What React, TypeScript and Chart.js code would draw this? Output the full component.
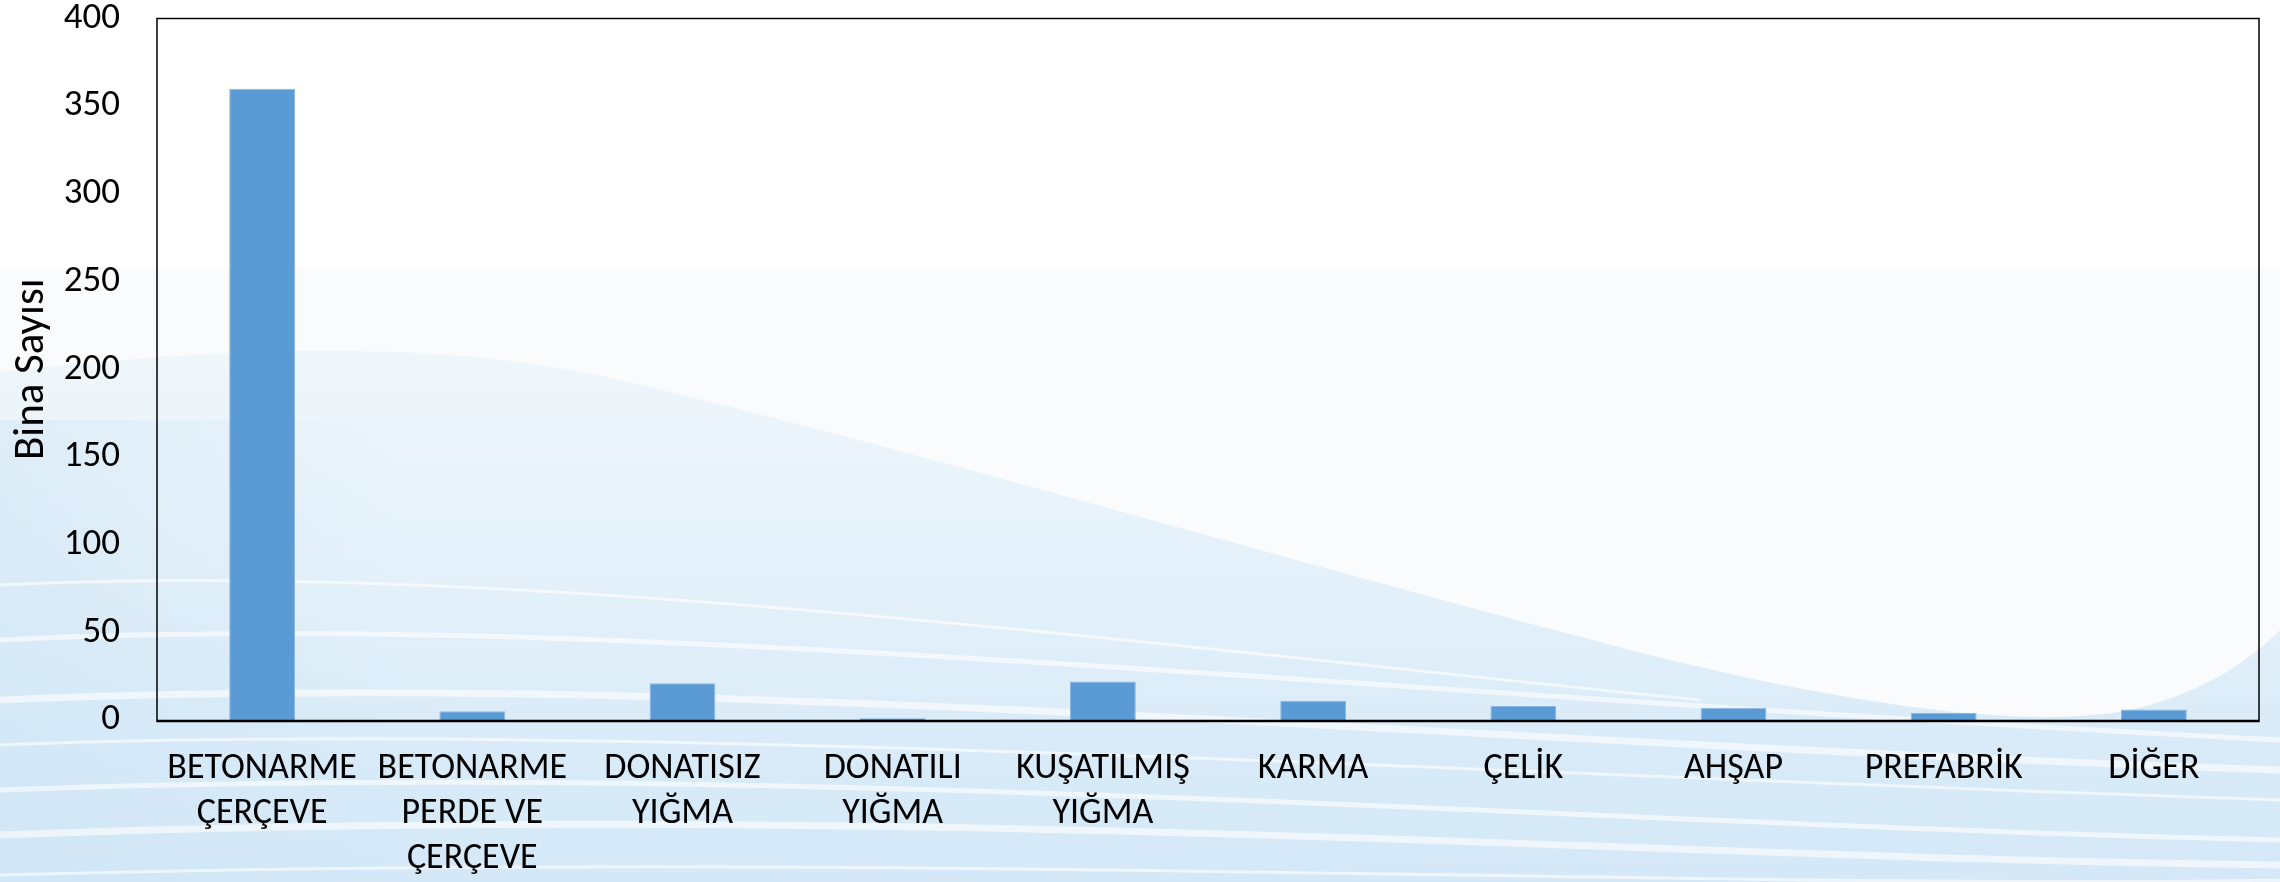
import React, { useEffect, useRef } from "react";
import { Chart, registerables } from "chart.js";

Chart.register(...registerables);

const categories: (string | string[])[] = [
  ["BETONARME", "ÇERÇEVE"],
  ["BETONARME", "PERDE VE", "ÇERÇEVE"],
  ["DONATISIZ", "YIĞMA"],
  ["DONATILI", "YIĞMA"],
  ["KUŞATILMIŞ", "YIĞMA"],
  "KARMA",
  "ÇELİK",
  "AHŞAP",
  "PREFABRİK",
  "DİĞER",
];
const binaSayisi: number[] = [360, 5, 21, 1, 22, 11, 8, 7, 4, 6];
const yTitle = "Bina Sayısı";
const yMin = 0;
const yMax = 400;
const yStep = 50;

const FONT = "Carlito, Calibri, Lato, 'Open Sans', sans-serif";

const backgroundPlugin = {
  id: "waveBackground",
  beforeDraw(chart: any) {
    const { ctx, width, height } = chart;
    ctx.save();
    ctx.fillStyle = "#ffffff";
    ctx.fillRect(0, 0, width, height);
    ctx.fillStyle = "#f9fbfc";
    ctx.fillRect(0, 268, width, height - 268);

    // pale blue wave region
    const g = ctx.createLinearGradient(0, 340, 0, height);
    g.addColorStop(0, "rgba(222,238,249,0.35)");
    g.addColorStop(0.45, "rgba(220,237,249,0.75)");
    g.addColorStop(0.75, "rgba(215,234,248,0.95)");
    g.addColorStop(1, "rgba(212,232,247,1)");
    ctx.fillStyle = g;
    ctx.beginPath();
    ctx.moveTo(0, 372);
    ctx.bezierCurveTo(200, 350, 420, 335, 620, 380);
    ctx.bezierCurveTo(900, 445, 1300, 565, 1650, 655);
    ctx.bezierCurveTo(1850, 705, 2050, 735, 2150, 705);
    ctx.bezierCurveTo(2220, 685, 2260, 650, 2280, 630);
    ctx.lineTo(2280, height);
    ctx.lineTo(0, height);
    ctx.closePath();
    ctx.fill();

    // left side extra tint
    const g2 = ctx.createLinearGradient(0, 0, 400, 0);
    g2.addColorStop(0, "rgba(205,228,245,0.45)");
    g2.addColorStop(1, "rgba(205,228,245,0)");
    ctx.fillStyle = g2;
    ctx.fillRect(0, 420, 400, height - 420);

    // soft white streaks (mostly below plot)
    ctx.strokeStyle = "rgba(255,255,255,0.6)";
    const streaks = [
      [0, 585, 500, 560, 1100, 640, 1700, 700],
      [0, 640, 600, 610, 1300, 690, 2280, 740],
      [0, 700, 700, 670, 1400, 740, 2280, 770],
      [0, 745, 600, 720, 1500, 775, 2280, 800],
      [0, 790, 800, 760, 1600, 825, 2280, 840],
      [0, 835, 900, 800, 1700, 860, 2280, 865],
      [0, 875, 900, 850, 1700, 890, 2280, 880],
    ];
    streaks.forEach((s, i) => {
      ctx.lineWidth = 3 + (i % 3) * 2;
      ctx.beginPath();
      ctx.moveTo(s[0], s[1]);
      ctx.bezierCurveTo(s[2], s[3], s[4], s[5], s[6], s[7]);
      ctx.stroke();
    });
    ctx.restore();
  },
};

const frameBorderPlugin = {
  id: "frameBorder",
  afterDatasetsDraw(chart: any) {
    const { ctx, chartArea } = chart;
    const { left, right, top, bottom } = chartArea;
    ctx.save();
    ctx.strokeStyle = "#000000";
    ctx.lineWidth = 1.5;
    ctx.beginPath();
    ctx.moveTo(left, bottom);
    ctx.lineTo(left, top);
    ctx.lineTo(right, top);
    ctx.lineTo(right, bottom);
    ctx.stroke();
    ctx.lineWidth = 2.6;
    ctx.beginPath();
    ctx.moveTo(left - 0.75, bottom + 1);
    ctx.lineTo(right + 0.75, bottom + 1);
    ctx.stroke();
    ctx.restore();
  },
};

export default function App() {
  const canvasRef = useRef<HTMLCanvasElement | null>(null);

  useEffect(() => {
    document.body.style.margin = "0";
    const canvas = canvasRef.current;
    if (!canvas) return;
    const chart = new Chart(canvas, {
      type: "bar",
      data: {
        labels: categories,
        datasets: [
          {
            label: yTitle,
            data: binaSayisi,
            backgroundColor: "#5b9bd5",
            borderColor: "#8ab8e3",
            borderWidth: { top: 1, left: 1, right: 1, bottom: 0 },
            borderSkipped: "bottom",
            categoryPercentage: 1,
            barPercentage: 0.313,
          },
        ],
      },
      options: {
        animation: false,
        responsive: true,
        maintainAspectRatio: false,
        layout: { padding: { left: 0, right: 21, top: 18.5, bottom: 0 } },
        plugins: {
          legend: { display: false },
          tooltip: { enabled: false },
        },
        scales: {
          x: {
            grid: { display: false, drawTicks: false },
            border: { display: false },
            ticks: {
              color: "#000000",
              font: { family: FONT, size: 36, lineHeight: 1.25 },
              padding: 26,
              autoSkip: false,
              maxRotation: 0,
              minRotation: 0,
            },
            afterFit(scale: any) {
              scale.height = 162;
              scale.paddingLeft = 0;
              scale.paddingRight = 0;
            },
          },
          y: {
            min: yMin,
            max: yMax,
            grid: { display: false, drawTicks: false },
            border: { display: false },
            ticks: {
              stepSize: yStep,
              color: "#000000",
              font: { family: FONT, size: 37, lineHeight: 1.2 },
              padding: 37,
            },
            title: {
              display: true,
              text: yTitle,
              color: "#000000",
              font: { family: FONT, size: 43, lineHeight: 1.2 },
              padding: { top: 6, bottom: 0 },
            },
            afterFit(scale: any) {
              scale.width = 157;
              scale.paddingTop = 0;
              scale.paddingBottom = 0;
            },
          },
        },
      },
      plugins: [backgroundPlugin, frameBorderPlugin],
    });
    return () => chart.destroy();
  }, []);

  return (
    <div style={{ position: "absolute", left: 0, top: 0, width: 2280, height: 882 }}>
      <canvas ref={canvasRef} />
    </div>
  );
}
